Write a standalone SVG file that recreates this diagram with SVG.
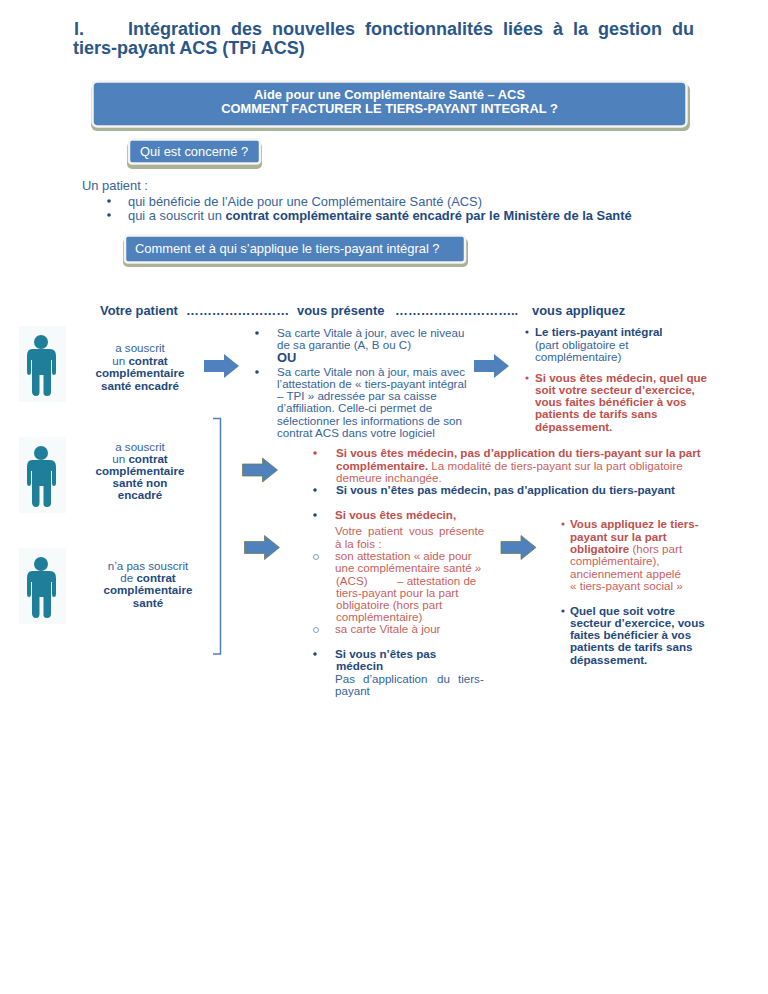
<svg xmlns="http://www.w3.org/2000/svg" width="768" height="994" viewBox="0 0 768 994">
<style>
text{font-family:"Liberation Sans",Arial,sans-serif;font-size:11.6px;fill:#36639a}
.b{font-weight:bold;fill:#1f497d}
.r{fill:#c95f5c}
.rb{font-weight:bold;fill:#c0504d}
.c{text-anchor:middle}
.h{font-size:12.9px;font-weight:bold;fill:#1f497d}
.t{font-size:18px;font-weight:bold;fill:#2a5689}
.w{font-size:12.9px;fill:#fff}
.wb{font-weight:bold}
.l{font-size:12.9px}
.box{fill:#4f81bd;stroke:#f4f4f0;stroke-width:2.500}
.sh{fill:#aab39a}
.ar{fill:#4f81bd}
.ar2{fill:#4f81bd;stroke:#6f7f4f;stroke-width:.8}
.fig{fill:#1f7f9a}
.bg{fill:#f6fafb}
.dot{fill:#1f497d}
.ring{fill:none;stroke:#7f9fd0;stroke-width:1}
</style>
<defs>
<g id="person">
<rect class="bg" x="0" y="0" width="47" height="76"/>
<circle class="fig" cx="22" cy="16" r="7"/>
<path class="fig" d="M13 23H31Q37 23 37 30V46Q37 49 35 49T33 46V34H32V66Q32 70 28 70T24.500 66V49H20.500V66Q20.500 70 17 70T13 66V34H12V46Q12 49 10 49T8 46V30Q8 23 13 23Z"/>
</g>
<path id="arr" d="M0 6H20V0L35 12L20 24V18H0Z"/>
</defs>
<g id="title">
<text class="t" y="35"><tspan x="74">I.</tspan><tspan x="128">Intégration</tspan><tspan x="231">des</tspan><tspan x="272">nouvelles</tspan><tspan x="365">fonctionnalités</tspan><tspan x="503">liées</tspan><tspan x="553">à</tspan><tspan x="573">la</tspan><tspan x="598">gestion</tspan><tspan x="672">du</tspan></text>
<text class="t" x="73" y="54">tiers-payant ACS (TPi ACS)</text>
</g>
<g id="main-box">
<rect class="sh" x="91" y="84" width="599" height="47" rx="6"/>
<rect class="box" x="92.500" y="81.500" width="594" height="45" rx="5"/>
<text class="w wb c" x="389.500" y="99">Aide pour une Complémentaire Santé – ACS</text>
<text class="w wb c" x="389.500" y="113">COMMENT FACTURER LE TIERS-PAYANT INTEGRAL ?</text>
</g>
<g id="qui-box">
<rect class="sh" x="127" y="142" width="135" height="27" rx="5"/>
<rect class="box" x="129" y="139.500" width="131" height="24" rx="3"/>
<text class="w" x="140" y="156">Qui est concerné ?</text>
</g>
<g id="patient-intro">
<text class="l" x="82" y="190">Un patient :</text>
<circle class="dot" cx="109" cy="201" r="1.800"/>
<circle class="dot" cx="109" cy="215" r="1.800"/>
<text class="l" x="128" y="206">qui bénéficie de l’Aide pour une Complémentaire Santé (ACS)</text>
<text class="l" x="128" y="220">qui a souscrit un <tspan class="b">contrat complémentaire santé encadré par le Ministère de la Santé</tspan></text>
</g>
<g id="comment-box">
<rect class="sh" x="123" y="238" width="345" height="29" rx="5"/>
<rect class="box" x="125" y="235.500" width="340" height="27" rx="3"/>
<text class="w" x="135" y="253">Comment et à qui s’applique le tiers-payant intégral ?</text>
</g>
<g id="columns">
<text class="h" x="100" y="315">Votre patient</text>
<text class="h" x="186" y="315">……………………</text>
<text class="h" x="297" y="315">vous présente</text>
<text class="h" x="395" y="315">………………………..</text>
<text class="h" x="532" y="315">vous appliquez</text>
</g>
<g id="patient1">
<use href="#person" x="19" y="326"/>
<text class="c" x="140" y="352">a souscrit</text>
<text class="c" x="140" y="365">un <tspan class="b">contrat</tspan></text>
<text class="c b" x="140" y="377">complémentaire</text>
<text class="c b" x="140" y="390">santé encadré</text>
</g>
<g id="patient2">
<use href="#person" x="19" y="437"/>
<text class="c" x="140" y="451">a souscrit</text>
<text class="c" x="140" y="463">un <tspan class="b">contrat</tspan></text>
<text class="c b" x="140" y="475">complémentaire</text>
<text class="c b" x="140" y="487">santé non</text>
<text class="c b" x="140" y="499">encadré</text>
</g>
<g id="patient3">
<use href="#person" x="19" y="548"/>
<text class="c" x="148" y="570">n’a pas souscrit</text>
<text class="c" x="148" y="582">de <tspan class="b">contrat</tspan></text>
<text class="c b" x="148" y="594">complémentaire</text>
<text class="c b" x="148" y="607">santé</text>
</g>
<g id="connectors">
<use href="#arr" class="ar" x="204" y="354"/>
<use href="#arr" class="ar" x="474" y="354"/>
<use href="#arr" class="ar2" x="242.500" y="458"/>
<use href="#arr" class="ar2" x="244.500" y="535.500"/>
<use href="#arr" class="ar2" x="501" y="535.500"/>
<path d="M213 418.500H220.500V654H213" fill="none" stroke="#4f81bd" stroke-width="1.500"/>
</g>
<g id="presente">
<circle class="dot" cx="257" cy="333" r="1.800"/>
<circle class="dot" cx="257" cy="372" r="1.800"/>
<text x="277" y="337">Sa carte Vitale à jour, avec le niveau</text>
<text x="277" y="349">de sa garantie (A, B ou C)</text>
<text class="b l" x="277" y="362">OU</text>
<text x="277" y="376">Sa carte Vitale non à jour, mais avec</text>
<text x="277" y="388">l’attestation de « tiers-payant intégral</text>
<text x="277" y="400">– TPI » adressée par sa caisse</text>
<text x="277" y="412">d’affiliation. Celle-ci  permet de</text>
<text x="277" y="425">sélectionner  les informations de son</text>
<text x="277" y="437">contrat  ACS dans votre logiciel</text>
</g>
<g id="applique">
<circle class="dot" cx="527" cy="332" r="1.600"/>
<circle cx="527" cy="378" r="1.600" fill="#c0504d"/>
<text class="b" x="535" y="336">Le tiers-payant intégral</text>
<text x="535" y="349">(part obligatoire et</text>
<text x="535" y="361">complémentaire)</text>
<text class="rb" x="535" y="382">Si vous êtes médecin, quel que</text>
<text class="rb" x="535" y="394">soit votre secteur d’exercice,</text>
<text class="rb" x="535" y="406">vous faites bénéficier à vos</text>
<text class="rb" x="535" y="418">patients de tarifs sans</text>
<text class="rb" x="535" y="431">dépassement.</text>
</g>
<g id="non-encadre">
<circle cx="315" cy="453" r="1.800" fill="#c0504d"/>
<circle class="dot" cx="315" cy="490" r="1.800"/>
<text class="rb" x="336" y="457">Si vous êtes médecin, pas d’application du tiers-payant sur la part</text>
<text class="r" x="336" y="470"><tspan class="rb">complémentaire.</tspan> La modalité de tiers-payant sur la part obligatoire</text>
<text class="r" x="336" y="482">demeure inchangée.</text>
<text class="b" x="336" y="494">Si vous n’êtes pas médecin, pas d’application du tiers-payant</text>
</g>
<g id="sans-contrat">
<circle class="dot" cx="315" cy="515" r="1.800"/>
<circle class="ring" cx="316" cy="557" r="2.500"/>
<circle class="ring" cx="316" cy="630" r="2.500"/>
<circle class="dot" cx="315" cy="654" r="1.800"/>
<text class="rb" x="335" y="519">Si vous êtes médecin,</text>
<text class="r" y="535"><tspan x="335">Votre</tspan><tspan x="368">patient</tspan><tspan x="409">vous</tspan><tspan x="439">présente</tspan></text>
<text class="r" x="335" y="548">à la fois :</text>
<text class="r" x="335" y="560">son attestation « aide pour</text>
<text class="r" x="335" y="572">une complémentaire santé »</text>
<text class="r" y="585"><tspan x="336">(ACS)</tspan><tspan x="397">– attestation de</tspan></text>
<text class="r" x="336" y="597">tiers-payant pour la part</text>
<text class="r" x="336" y="609">obligatoire (hors part</text>
<text class="r" x="336" y="621">complémentaire)</text>
<text class="r" x="335" y="633">sa carte Vitale à jour</text>
<text class="b" x="335" y="658">Si vous n’êtes pas</text>
<text class="b" x="336" y="670">médecin</text>
<text y="683"><tspan x="335">Pas</tspan><tspan x="363">d’application</tspan><tspan x="437">du</tspan><tspan x="458">tiers-</tspan></text>
<text x="335" y="695">payant</text>
</g>
<g id="obligatoire">
<circle cx="563" cy="524" r="1.600" fill="#c0504d"/>
<circle class="dot" cx="563" cy="611" r="1.600"/>
<text class="rb" x="570" y="528">Vous appliquez le tiers-</text>
<text class="rb" x="570" y="541">payant sur la part</text>
<text class="r" x="570" y="553"><tspan class="rb">obligatoire</tspan> (hors part</text>
<text class="r" x="570" y="565">complémentaire),</text>
<text class="r" x="570" y="578">anciennement appelé</text>
<text class="r" x="570" y="590">« tiers-payant social »</text>
<text class="b" x="570" y="615">Quel que soit votre</text>
<text class="b" x="570" y="627">secteur d’exercice, vous</text>
<text class="b" x="570" y="639">faites bénéficier à vos</text>
<text class="b" x="570" y="651">patients de tarifs sans</text>
<text class="b" x="570" y="664">dépassement.</text>
</g>
</svg>
